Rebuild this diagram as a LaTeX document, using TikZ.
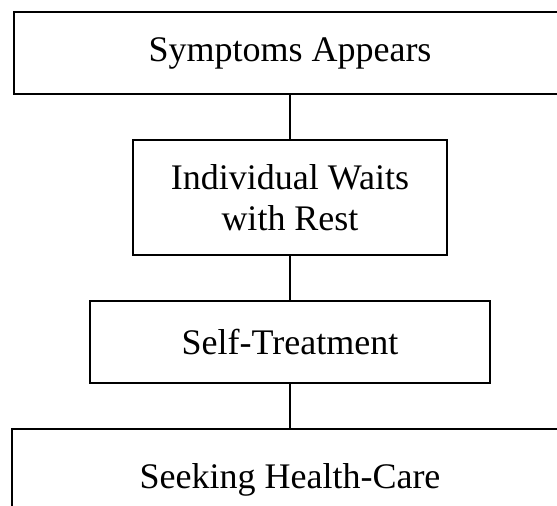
\documentclass[tikz,border=0pt]{standalone}
\usepackage{fontspec}
\setmainfont{Liberation Serif}
\tikzset{
	stagebox/.style={rectangle, draw=black, line width=1.5pt, inner sep=0pt, align=center, font=\fontsize{36}{41}\selectfont},
	stageline/.style={draw=black, line width=1.5pt}
}
\begin{document}
\begin{tikzpicture}[x=1pt,y=-1pt]
	\clip (0,0) rectangle (557,506);
	\node[stagebox, minimum width=552pt, minimum height=82pt] (symptoms) at (290,53) {Symptoms Appears};
	\node[stagebox, minimum width=314pt, minimum height=115pt] (waits) at (290,197.5) {Individual Waits\\with Rest};
	\node[stagebox, minimum width=400pt, minimum height=82pt] (selftreat) at (290,342) {Self-Treatment};
	\node[stagebox, minimum width=556pt, minimum height=102pt] (seeking) at (290,480) {Seeking Health-Care};
	\draw[stageline] (symptoms) -- (waits);
	\draw[stageline] (waits) -- (selftreat);
	\draw[stageline] (selftreat) -- (seeking);
\end{tikzpicture}
\end{document}
